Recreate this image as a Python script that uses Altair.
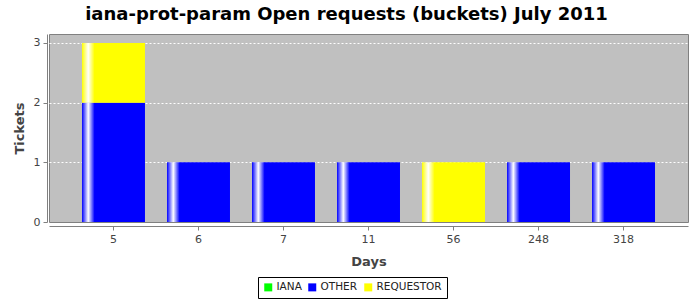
import altair as alt
import pandas as pd

days = ["5", "6", "7", "11", "56", "248", "318"]
series = ["IANA", "OTHER", "REQUESTOR"]
iana = [0, 0, 0, 0, 0, 0, 0]
other = [2, 1, 1, 1, 0, 1, 1]
requestor = [1, 0, 0, 0, 1, 0, 0]
colors = ["#00FF00", "#0000FF", "#FFFF00"]
y_ticks = [0, 1, 2, 3]

rows = []
for i, d in enumerate(days):
    for k, (s, vals) in enumerate(zip(series, [iana, other, requestor])):
        rows.append({"days": d, "series": s, "tickets": vals[i], "order": k})
df = pd.DataFrame(rows)


def grad(c):
    return alt.Gradient(
        gradient="linear", x1=0, x2=1, y1=0, y2=0,
        stops=[
            alt.GradientStop(offset=0.0, color=c),
            alt.GradientStop(offset=0.1, color="#FFFFFF"),
            alt.GradientStop(offset=0.2, color=c),
            alt.GradientStop(offset=1.0, color=c),
        ],
    )


xscale = alt.Scale(domain=days, paddingInner=0.259, paddingOuter=0.388)
yscale = alt.Scale(domain=[0, 3.15], nice=False, zero=True)

xenc = alt.X(
    "days:N", scale=xscale, sort=days, title="Days",
    axis=alt.Axis(labelAngle=0, offset=4, domainColor="#808080", tickColor="#808080",
                  tickSize=4, labelPadding=3, titlePadding=11, grid=False),
)
yaxis = alt.Axis(values=y_ticks, format="d", offset=2, domainColor="#808080",
                 tickColor="#808080", tickSize=4, labelPadding=3, titlePadding=7,
                 grid=True, gridColor="#FFFFFF", gridDash=[2, 2], gridWidth=1,
                 gridOpacity={"condition": {"test": "datum.value === 0", "value": 0},
                              "value": 1})

base = alt.Chart(df).transform_stack(
    stack="tickets", groupby=["days"], as_=["y0", "y1"],
    sort=[alt.SortField("order", order="ascending")],
)

layers = []
# invisible layer carrying the axes and the legend
legend_layer = alt.Chart(df).mark_square(opacity=0).encode(
    x=xenc,
    y=alt.Y("tickets:Q", scale=yscale, title="Tickets", axis=yaxis),
    color=alt.Color("series:N", scale=alt.Scale(domain=series, range=colors),
                    legend=alt.Legend(title=None, orient="none", legendX=209, legendY=243,
                                      direction="horizontal", symbolType="square",
                                      symbolOpacity=1, symbolSize=64, symbolStrokeWidth=0,
                                      strokeColor="#000000", padding=5,
                                      labelFontSize=10.5, labelColor="#222222",
                                      columnPadding=5, symbolOffset=0,
                                      labelOffset=3, fillColor="#FFFFFF")),
)
layers.append(legend_layer)

for s, c in zip(series, colors):
    layers.append(
        base.transform_filter((alt.datum.series == s) & (alt.datum.tickets > 0))
        .mark_bar(fill=grad(c))
        .encode(
            x=alt.X("days:N", scale=xscale, sort=days),
            y=alt.Y("y0:Q", scale=yscale),
            y2="y1:Q",
        )
    )

chart = alt.layer(*layers).properties(
    width=639, height=188,
    title=alt.TitleParams("iana-prot-param Open requests (buckets) July 2011",
                          font="DejaVu Sans", fontSize=18, fontWeight="bold",
                          color="#000000", anchor="middle", dx=-22, offset=10),
    autosize=alt.AutoSizeParams(type="none"),
    padding={"left": 49, "top": 34, "right": 12, "bottom": 78},
).configure(
    font="DejaVu Sans",
).configure_view(
    fill="#C0C0C0", stroke="#808080", strokeWidth=1,
).configure_axis(
    labelFont="DejaVu Sans", labelFontSize=11, labelColor="#444444",
    titleFont="DejaVu Sans", titleFontSize=13, titleFontWeight="bold", titleColor="#444444",
).configure_legend(
    labelFont="DejaVu Sans",
)

chart.save("out.html", embed_options={"renderer": "svg", "actions": False})
